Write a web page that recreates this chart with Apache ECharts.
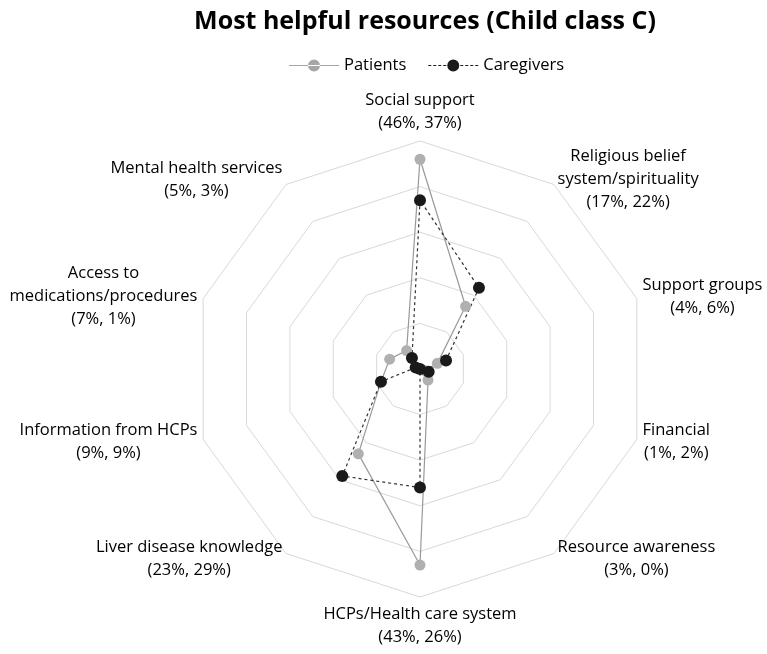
<!DOCTYPE html>
<html>
<head>
<meta charset="utf-8">
<script src="https://cdn.jsdelivr.net/npm/echarts@6/dist/echarts.min.js"></script>
<style>
  html, body { margin: 0; padding: 0; background: #fff; }
  #chart { width: 767px; height: 654px; }
</style>
</head>
<body>
<div id="chart"></div>
<script>
// categories, in the order echarts lays them out (counter-clockwise from top)
var categories = [
  "Social support",
  "Mental health services",
  "Access to\nmedications/procedures",
  "Information from HCPs",
  "Liver disease knowledge",
  "HCPs/Health care system",
  "Resource awareness",
  "Financial",
  "Support groups",
  "Religious belief\nsystem/spirituality"
];
var patients = [46, 5, 7, 9, 23, 43, 3, 1, 4, 17];
var caregivers = [37, 3, 1, 9, 29, 26, 0, 2, 6, 22];
var seriesNames = ["Patients", "Caregivers"];

// legend icons: line + dot, solid and dashed
var solidIcon = "path://M0,5.5L50,5.5L50,6.5L0,6.5Z M19,6a6,6 0 1,0 12,0a6,6 0 1,0 -12,0Z";
var dashedIcon = "path://M0,5.5h3v1h-3Z M5,5.5h3v1h-3Z M10,5.5h3v1h-3Z M15,5.5h3v1h-3Z " +
  "M32,5.5h3v1h-3Z M37,5.5h3v1h-3Z M42,5.5h3v1h-3Z M47,5.5h3v1h-3Z M19,6a6,6 0 1,0 12,0a6,6 0 1,0 -12,0Z";

var indicators = categories.map(function (c, i) {
  return { name: c + "\n(" + patients[i] + "%, " + caregivers[i] + "%)", min: 0, max: 50 };
});

var chart = echarts.init(document.getElementById("chart"));
chart.setOption({
  backgroundColor: "#fff",
  textStyle: { fontFamily: "Open Sans" },
  title: {
    text: "Most helpful resources (Child class C)",
    left: 420,
    textAlign: "center",
    top: 4,
    textStyle: { fontSize: 25, fontWeight: "bold", color: "#000", fontFamily: "Open Sans" }
  },
  legend: {
    top: 52,
    left: 284,
    itemWidth: 50,
    itemHeight: 12,
    itemGap: 22,
    textStyle: { fontSize: 16.5, color: "#000" },
    data: [
      { name: seriesNames[0], icon: solidIcon, itemStyle: { color: "#a6a6a6" } },
      { name: seriesNames[1], icon: dashedIcon, itemStyle: { color: "#1a1a1a" } }
    ]
  },
  radar: {
    center: [420, 369],
    radius: 228,
    shape: "polygon",
    splitNumber: 5,
    nameGap: 6,
    indicator: indicators,
    axisName: {
      color: "#000",
      fontSize: 16.5,
      formatter: function (name) {
        return name.split("\n").map(function (l) { return "{c|" + l + "}"; }).join("\n");
      },
      rich: {
        c: { align: "center", fontSize: 16.5, lineHeight: 23, color: "#000", fontFamily: "Open Sans" }
      }
    },
    axisLine: { show: false },
    axisTick: { show: false },
    axisLabel: { show: false },
    splitArea: { show: false },
    splitLine: { lineStyle: { color: "#d9d9d9", width: 1 } }
  },
  series: [
    {
      type: "radar",
      symbol: "circle",
      symbolSize: 11,
      data: [{
        name: seriesNames[0],
        value: patients,
        itemStyle: { color: "#b0b0b0" },
        lineStyle: { color: "#999999", width: 1.2, type: "solid" }
      }]
    },
    {
      type: "radar",
      symbol: "circle",
      symbolSize: 12,
      data: [{
        name: seriesNames[1],
        value: caregivers,
        itemStyle: { color: "#1a1a1a" },
        lineStyle: { color: "#333333", width: 1.2, type: [3, 3] }
      }]
    }
  ]
});
</script>
</body>
</html>
